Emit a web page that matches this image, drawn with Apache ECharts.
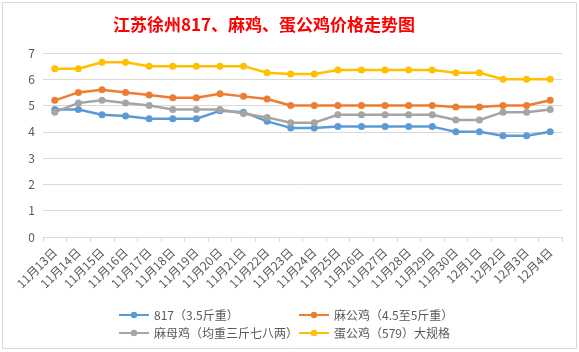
<!DOCTYPE html>
<html>
<head>
<meta charset="utf-8">
<script src="https://cdn.jsdelivr.net/npm/echarts@6/dist/echarts.min.js"></script>
<style>
  html, body { margin: 0; padding: 0; background: #fff; }
  #chart { width: 579px; height: 352px; }
</style>
</head>
<body>
<div id="chart"></div>
<script>
var days = ["11月13日", "11月14日", "11月15日", "11月16日", "11月17日", "11月18日", "11月19日",
    "11月20日", "11月21日", "11月22日", "11月23日", "11月24日", "11月25日", "11月26日", "11月27日",
    "11月28日", "11月29日", "11月30日", "12月1日", "12月2日", "12月3日", "12月4日"];

var names = ["817（3.5斤重）", "麻公鸡（4.5至5斤重）", "麻母鸡（均重三斤七八两）", "蛋公鸡（579）大规格"];
var colors = ["#5B9BD5", "#ED7D31", "#A5A5A5", "#FFC000"];

var chicken817 = [4.85, 4.85, 4.65, 4.6, 4.5, 4.5, 4.5, 4.8, 4.75, 4.4, 4.15, 4.15, 4.2, 4.2, 4.2, 4.2, 4.2, 4.0, 4.0, 3.85, 3.85, 4.0];
var maleMa = [5.2, 5.5, 5.6, 5.5, 5.4, 5.3, 5.3, 5.45, 5.35, 5.25, 5.0, 5.0, 5.0, 5.0, 5.0, 5.0, 5.0, 4.95, 4.95, 5.0, 5.0, 5.2];
var femaleMa = [4.75, 5.1, 5.2, 5.1, 5.0, 4.85, 4.85, 4.85, 4.7, 4.55, 4.35, 4.35, 4.65, 4.65, 4.65, 4.65, 4.65, 4.45, 4.45, 4.75, 4.75, 4.85];
var eggMale = [6.4, 6.4, 6.65, 6.65, 6.5, 6.5, 6.5, 6.5, 6.5, 6.25, 6.2, 6.2, 6.35, 6.35, 6.35, 6.35, 6.35, 6.25, 6.25, 6.0, 6.0, 6.0];

var yTicks = [0, 1, 2, 3, 4, 5, 6, 7];

var seriesData = [chicken817, maleMa, femaleMa, eggMale];

var myChart = echarts.init(document.getElementById("chart"));

var legendPos = [[113, 304], [293, 304], [113, 322], [293, 322]];
var legends = names.map(function (n, i) {
    return {
        data: [n],
        left: legendPos[i][0],
        top: legendPos[i][1],
        itemWidth: 30,
        itemHeight: 8,
        itemGap: 4,
        textStyle: { color: "#595959", fontSize: 12, fontFamily: "Noto Sans CJK SC" }
    };
});

var option = {
    animation: false,
    backgroundColor: "#fff",
    title: {
        text: "江苏徐州817、麻鸡、蛋公鸡价格走势图",
        left: 108,
        top: 11,
        textStyle: { color: "#FF0000", fontSize: 17, fontWeight: "bold", fontFamily: "Noto Sans CJK SC" }
    },
    legend: legends,
    grid: { left: 43, right: 17, top: 53, bottom: 115 },
    xAxis: {
        type: "category",
        data: days,
        boundaryGap: true,
        axisLine: { lineStyle: { color: "#D9D9D9" } },
        axisTick: { show: true, length: 5, lineStyle: { color: "#D9D9D9" } },
        axisLabel: { rotate: 45, interval: 0, margin: 13, color: "#595959", fontSize: 12, fontFamily: "Noto Sans CJK SC" }
    },
    yAxis: {
        type: "value",
        min: yTicks[0],
        max: yTicks[yTicks.length - 1],
        interval: 1,
        axisLine: { show: false },
        axisTick: { show: false },
        axisLabel: { color: "#595959", fontSize: 12, margin: 8, fontFamily: "Noto Sans CJK SC" },
        splitLine: { lineStyle: { color: "#D9D9D9" } }
    },
    graphic: [{
        type: "rect",
        shape: { x: 2.5, y: 2.5, width: 574, height: 346 },
        style: { fill: "none", stroke: "#D9D9D9", lineWidth: 1 },
        silent: true
    }],
    series: seriesData.map(function (d, i) {
        return {
            name: names[i],
            type: "line",
            data: d,
            color: colors[i],
            symbol: "circle",
            symbolSize: 7,
            lineStyle: { width: 2.5 },
            itemStyle: { color: colors[i] }
        };
    })
};
myChart.setOption(option);
</script>
</body>
</html>
